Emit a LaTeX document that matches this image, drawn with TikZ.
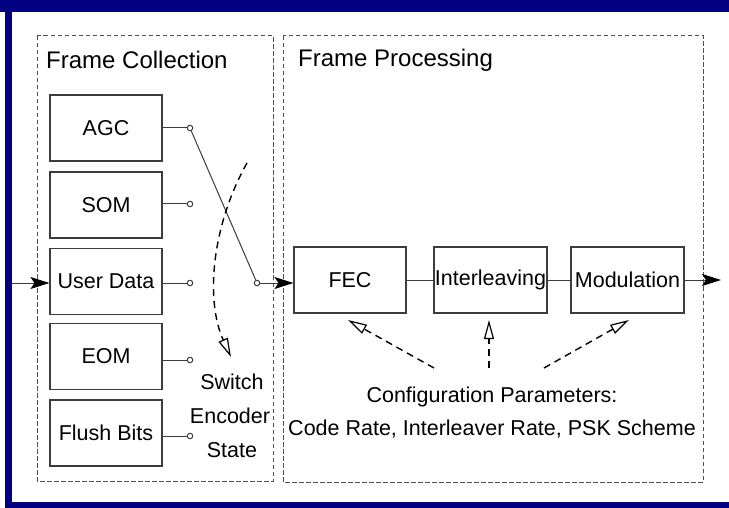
\documentclass[tikz,border=0pt]{standalone}
\usepackage{fontspec}
\setmainfont{Liberation Sans}
\usetikzlibrary{arrows.meta}
\definecolor{navy}{RGB}{0,0,128}
\definecolor{linegray}{RGB}{60,60,60}
\definecolor{dashgray}{RGB}{80,80,80}
\begin{document}
\begin{tikzpicture}[x=1pt,y=-1pt,
  blockbox/.style={draw=linegray, line width=1.1pt, minimum width=112pt,
    minimum height=66pt, inner sep=0pt, font=\fontsize{21.5}{24}\selectfont},
  tap/.style={draw=linegray, fill=white, circle, line width=1pt,
    inner sep=0pt, minimum size=5.5pt},
  wire/.style={draw=linegray, line width=1pt},
  feed/.style={wire, -{Stealth[length=19pt,width=12pt,inset=4pt,fill=black,color=black]}},
  container/.style={draw=dashgray, line width=1pt, dash pattern=on 4.5pt off 2.5pt},
  cfgarrow/.style={draw=black, line width=1.4pt, dash pattern=on 7pt off 5pt,
    -{Triangle[open,length=19pt,width=10pt,line width=1.2pt]}},
  label/.style={inner sep=0pt, font=\fontsize{21.5}{24}\selectfont},
  title/.style={inner sep=0pt, anchor=west, font=\fontsize{24}{28}\selectfont}
]
\useasboundingbox (0,0) rectangle (729,508);
\fill[white] (0,0) rectangle (729,508);

% outer navy frame
\fill[navy] (0,0) rectangle (729,12);
\fill[navy] (5,0) rectangle (12,508);
\fill[navy] (5,502) rectangle (729,508);

% dashed groupings
\draw[container] (37,36) rectangle (273,481);
\draw[container] (283,36) rectangle (703,482);
\node[title] (tcoll) at (46,60) {Frame Collection};
\node[title] (tproc) at (298,60) {Frame Processing};

% frame fields
\node[blockbox] (agc)   at (106,128) {AGC};
\node[blockbox] (som)   at (106,205) {SOM};
\node[blockbox] (udata) at (106,281.5) {User Data};
\node[blockbox] (eom)   at (106,356.5) {EOM};
\node[blockbox] (flush) at (106,433) {Flush Bits};

% switch contacts
\node[tap] (cagc)   at (190,128) {};
\node[tap] (csom)   at (190,204) {};
\node[tap] (cudata) at (190,283) {};
\node[tap] (ceom)   at (190,360) {};
\node[tap] (cflush) at (190,436) {};
\node[tap] (sw)     at (257,283) {};

\draw[wire] (cagc.west) -- (cagc.west -| agc.east);
\draw[wire] (csom.west) -- (csom.west -| som.east);
\draw[wire] (cudata.west) -- (cudata.west -| udata.east);
\draw[wire] (ceom.west) -- (ceom.west -| eom.east);
\draw[wire] (cflush.west) -- (cflush.west -| flush.east);

% switch arm
\draw[wire] (cagc) -- (sw);

% processing chain
\node[blockbox] (fec)   at (350,280) {FEC};
\node[blockbox, minimum width=113pt] (intl) at (490.5,280) {Interleaving};
\node[blockbox, minimum width=113pt] (mod)  at (627.5,280) {Modulation};

\coordinate (inp) at (12,283);
\coordinate (outp) at (721,280);
\draw[feed] (inp) -- (inp -| udata.west);
\draw[feed] (sw.east) -- (sw.east -| fec.west);
\draw[wire] (fec.east) -- (intl.west);
\draw[wire] (intl.east) -- (mod.west);
\draw[feed] (mod.east) -- (outp);

% switching of the encoder state
\coordinate (swA) at (247,163);
\coordinate (swB) at (231,357);
\draw[cfgarrow] (swA) .. controls (212,225) and (205,300) .. (swB);
\node[label] (lsw)  at (232,382) {Switch};
\node[label] (lenc) at (230,416) {Encoder};
\node[label] (lst)  at (232,450) {State};

% configuration parameters
\node[label] (cfg1) at (492,397) {Configuration Parameters:};
\node[label] (cfg2) at (492,429) {Code Rate, Interleaver Rate, PSK Scheme};
\coordinate (pA) at (434,368);
\coordinate (pB) at (489,368);
\coordinate (pC) at (544,368);
\coordinate (tA) at (348,320);
\coordinate (tB) at (489,320);
\coordinate (tC) at (629,320);
\draw[cfgarrow] (pA) -- (tA);
\draw[cfgarrow] (pB) -- (tB);
\draw[cfgarrow] (pC) -- (tC);
\end{tikzpicture}
\end{document}
